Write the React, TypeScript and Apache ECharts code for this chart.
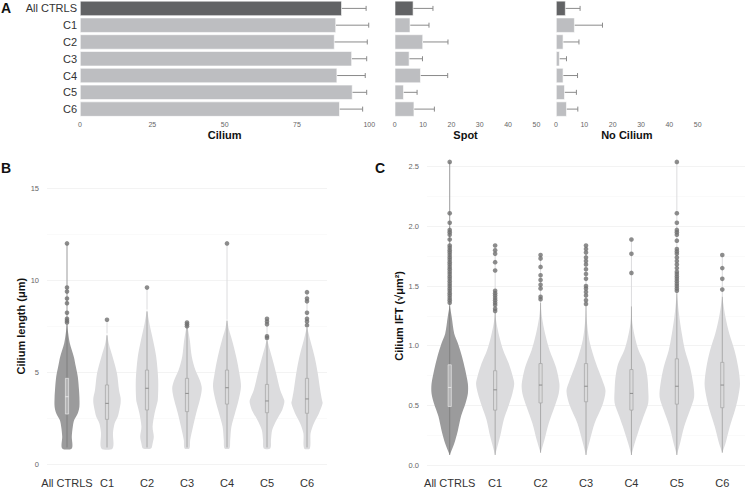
import React, { useEffect, useRef } from "react";
import * as echarts from "echarts";

// ---------- data ----------
const categories = ["All CTRLS", "C1", "C2", "C3", "C4", "C5", "C6"];

// Panel A (percent of cells), mean and mean+SD
const ciliumMean = [90.5, 88.5, 88.0, 94.0, 88.9, 94.2, 89.8];
const ciliumErr = [98.9, 99.8, 99.3, 99.1, 98.6, 99.1, 97.7];
const spotMean = [6.6, 5.5, 10.0, 5.2, 9.2, 3.2, 6.9];
const spotErr = [13.5, 12.1, 18.8, 9.8, 18.7, 7.9, 14.0];
const noCiliumMean = [3.4, 6.6, 2.6, 1.3, 2.6, 3.1, 3.8];
const noCiliumErr = [8.5, 16.4, 8.1, 3.7, 7.6, 7.2, 7.7];

// Panel B: violin outlines [value, half-width as fraction of category band]
const lengthAll = [[0.85, 0.12], [1.5, 0.12], [2.03, 0.145], [2.39, 0.18], [2.76, 0.27], [3.12, 0.31], [3.66, 0.31], [4.03, 0.3], [4.75, 0.27], [5.3, 0.22], [5.84, 0.17], [6.57, 0.07], [7.11, 0.03], [7.7, 0]];
const lengthC1 = [[0.85, 0.14], [1.7, 0.15], [2.21, 0.19], [2.58, 0.27], [2.94, 0.31], [3.3, 0.34], [3.6, 0.34], [4.03, 0.3], [4.93, 0.25], [5.84, 0.14], [6.5, 0.05], [7.1, 0]];
const lengthC2 = [[0.85, 0.1], [1.12, 0.14], [1.49, 0.17], [2.03, 0.14], [2.76, 0.19], [3.2, 0.24], [3.48, 0.27], [4.57, 0.28], [5.84, 0.23], [6.75, 0.15], [7.65, 0.06], [8.4, 0]];
const lengthC3 = [[0.85, 0.06], [1.31, 0.08], [2.03, 0.15], [2.76, 0.23], [3.48, 0.32], [4.1, 0.37], [4.5, 0.33], [5.11, 0.21], [5.84, 0.12], [6.75, 0.07], [7.65, 0]];
const lengthC4 = [[0.85, 0.06], [1.31, 0.08], [2.03, 0.11], [2.76, 0.2], [3.48, 0.29], [4.21, 0.35], [4.93, 0.31], [5.84, 0.23], [6.75, 0.125], [7.3, 0.05], [7.85, 0]];
const lengthC5 = [[0.85, 0.08], [1.31, 0.1], [1.85, 0.13], [2.39, 0.24], [2.94, 0.38], [3.3, 0.43], [3.48, 0.43], [4.03, 0.33], [4.93, 0.23], [5.84, 0.12], [6.3, 0.06], [6.8, 0]];
const lengthC6 = [[0.85, 0.07], [1.67, 0.09], [2.21, 0.17], [2.76, 0.3], [3.3, 0.39], [3.48, 0.375], [4.03, 0.33], [4.93, 0.27], [5.84, 0.19], [6.75, 0.08], [7.47, 0]];
// [lower whisker, Q1, median, Q3, upper whisker]
const lengthBox = [
  [0.9, 2.72, 3.66, 4.66, 7.6],
  [0.9, 2.43, 3.3, 4.3, 7.0],
  [0.9, 2.94, 4.12, 5.11, 8.3],
  [0.9, 2.85, 3.84, 4.66, 7.5],
  [0.9, 3.26, 4.15, 5.11, 7.8],
  [0.9, 2.79, 3.43, 4.33, 6.7],
  [0.9, 2.76, 3.54, 4.66, 7.4],
];
const lengthOutliers = [
  [12.0, 9.6, 9.38, 9.0, 8.75, 8.23, 7.9, 7.8, 7.7],
  [7.85],
  [9.6],
  [7.7, 7.6, 7.5],
  [12.0],
  [7.9, 7.75, 7.6, 6.95, 6.85],
  [9.35, 9.0, 8.85, 8.23, 7.9, 7.75, 7.55],
];

// Panel C
const iftAll = [[0.084, 0], [0.18, 0.1], [0.29, 0.18], [0.41, 0.25], [0.52, 0.35], [0.6, 0.4], [0.68, 0.4], [0.8, 0.34], [0.91, 0.27], [1.02, 0.18], [1.1, 0.1], [1.24, 0.044], [1.34, 0]];
const iftC1 = [[0.084, 0], [0.24, 0.11], [0.38, 0.19], [0.49, 0.29], [0.6, 0.38], [0.68, 0.42], [0.74, 0.39], [0.85, 0.3], [0.96, 0.18], [1.08, 0.09], [1.19, 0.03], [1.28, 0]];
const iftC2 = [[0.103, 0], [0.21, 0.085], [0.35, 0.18], [0.49, 0.31], [0.6, 0.4], [0.68, 0.415], [0.82, 0.34], [0.96, 0.2], [1.1, 0.1], [1.24, 0.03], [1.36, 0]];
const iftC3 = [[0.084, 0], [0.2, 0.08], [0.35, 0.19], [0.5, 0.36], [0.62, 0.43], [0.7, 0.37], [0.8, 0.27], [0.91, 0.17], [1.05, 0.07], [1.2, 0.02], [1.33, 0]];
const iftC4 = [[0.084, 0], [0.18, 0.07], [0.29, 0.16], [0.41, 0.27], [0.52, 0.37], [0.63, 0.37], [0.74, 0.35], [0.85, 0.29], [0.96, 0.16], [1.05, 0.09], [1.19, 0.02], [1.33, 0]];
const iftC5 = [[0.084, 0], [0.18, 0.07], [0.32, 0.16], [0.46, 0.29], [0.57, 0.38], [0.68, 0.36], [0.82, 0.29], [0.96, 0.18], [1.1, 0.11], [1.24, 0.055], [1.44, 0]];
const iftC6 = [[0.103, 0], [0.18, 0.07], [0.32, 0.165], [0.46, 0.28], [0.57, 0.35], [0.68, 0.39], [0.82, 0.35], [0.96, 0.27], [1.1, 0.155], [1.24, 0.07], [1.41, 0]];
const iftBox = [
  [0.084, 0.49, 0.65, 0.84, 1.34],
  [0.084, 0.46, 0.63, 0.79, 1.28],
  [0.103, 0.52, 0.67, 0.85, 1.36],
  [0.084, 0.53, 0.66, 0.85, 1.33],
  [0.084, 0.46, 0.6, 0.8, 1.33],
  [0.084, 0.51, 0.66, 0.89, 1.44],
  [0.103, 0.48, 0.67, 0.86, 1.41],
];
const iftOutliers = [
  [2.54, 2.11, 2.03, 1.97, 1.95, 1.93, 1.89, 1.84, 1.82, 1.8, 1.78, 1.76, 1.74, 1.72, 1.7, 1.68, 1.66, 1.64, 1.62, 1.6, 1.58, 1.56, 1.54, 1.52, 1.5, 1.48, 1.46, 1.44, 1.42, 1.4, 1.38, 1.36],
  [1.84, 1.8, 1.77, 1.7, 1.63, 1.46, 1.44, 1.42, 1.4, 1.38, 1.36, 1.34, 1.31, 1.29],
  [1.76, 1.73, 1.66, 1.59, 1.55, 1.51, 1.48, 1.41, 1.39],
  [1.84, 1.81, 1.78, 1.74, 1.71, 1.68, 1.64, 1.6, 1.56, 1.5, 1.48, 1.45, 1.42, 1.38, 1.35],
  [1.89, 1.77, 1.61],
  [2.54, 2.11, 2.03, 1.97, 1.95, 1.93, 1.88, 1.81, 1.79, 1.77, 1.74, 1.71, 1.68, 1.65, 1.62, 1.6, 1.58, 1.56, 1.54, 1.52, 1.5, 1.48, 1.46],
  [1.76, 1.65, 1.56, 1.47],
];

const lengthProfiles = [lengthAll, lengthC1, lengthC2, lengthC3, lengthC4, lengthC5, lengthC6];
const iftProfiles = [iftAll, iftC1, iftC2, iftC3, iftC4, iftC5, iftC6];

// ---------- styles ----------
const FONT = "Liberation Sans, Arial, Helvetica, sans-serif";
const DARK_BAR = "#626365";
const LIGHT_BAR = "#bdbec1";
const DARK_VIO = "#9b9b9c";
const LIGHT_VIO = "#dcdcde";
const OUT_COL = "#707070";

function barSeries(values: number[], idx: number) {
  return {
    type: "bar",
    xAxisIndex: idx,
    yAxisIndex: idx,
    barCategoryGap: "10%",
    data: values.map((v, i) => ({
      value: v,
      itemStyle: { color: i === 0 ? DARK_BAR : LIGHT_BAR, borderColor: "#ffffff", borderWidth: 0.6 },
    })),
    z: 2,
  };
}

function errSeries(mean: number[], err: number[], idx: number) {
  return {
    type: "custom",
    xAxisIndex: idx,
    yAxisIndex: idx,
    z: 3,
    encode: { x: [0, 1], y: 2 },
    data: mean.map((m, i) => [m, err[i], i]),
    renderItem: (params: any, api: any) => {
      const p0 = api.coord([api.value(0), api.value(2)]);
      const p1 = api.coord([api.value(1), api.value(2)]);
      const st = { stroke: "#8a8a8a", lineWidth: 1 };
      return {
        type: "group",
        children: [
          { type: "line", shape: { x1: p0[0], y1: p0[1], x2: p1[0], y2: p1[1] }, style: st },
          { type: "line", shape: { x1: p1[0], y1: p1[1] - 2.5, x2: p1[0], y2: p1[1] + 2.5 }, style: st },
        ],
      };
    },
  };
}

function violinSeries(profiles: number[][][], boxes: number[][], outliers: number[][], idx: number) {
  return {
    type: "custom",
    xAxisIndex: idx,
    yAxisIndex: idx,
    z: 2,
    clip: false,
    encode: { x: 0, y: [1, 2] },
    data: boxes.map((b, i) => [i, b[0], b[4]]),
    renderItem: (params: any, api: any) => {
      const i = params.dataIndex;
      const prof = profiles[i];
      const box = boxes[i];
      const dark = i === 0;
      const c0 = api.coord([0, 0]);
      const c1 = api.coord([1, 0]);
      const bw = Math.abs(c1[0] - c0[0]);
      const right = prof.map(([v, w]) => {
        const p = api.coord([i, v]);
        return [p[0] + w * bw, p[1]];
      });
      const left = prof
        .slice()
        .reverse()
        .map(([v, w]) => {
          const p = api.coord([i, v]);
          return [p[0] - w * bw, p[1]];
        });
      const fill = dark ? DARK_VIO : LIGHT_VIO;
      const center = api.coord([i, 0])[0];
      const topV = prof[prof.length - 1][0];
      const maxOut = outliers[i].length ? Math.max(...outliers[i]) : topV;
      const yTop = api.coord([i, topV])[1];
      const yMax = api.coord([i, maxOut])[1];
      const yLo = api.coord([i, box[0]])[1];
      const yQ1 = api.coord([i, box[1]])[1];
      const yMed = api.coord([i, box[2]])[1];
      const yQ3 = api.coord([i, box[3]])[1];
      const yHi = api.coord([i, box[4]])[1];
      const boxStroke = dark ? "#e6e6e6" : "#a3a3a3";
      const whisk = dark ? "#7a7a7a" : "#9c9c9c";
      const hw = 1.6;
      return {
        type: "group",
        children: [
          { type: "polygon", shape: { points: right.concat(left), smooth: 0.3 }, style: { fill } },
          { type: "line", shape: { x1: center, y1: yTop, x2: center, y2: yMax }, style: { stroke: fill, lineWidth: 1 } },
          { type: "line", shape: { x1: center, y1: yLo, x2: center, y2: yHi }, style: { stroke: whisk, lineWidth: 0.8 } },
          {
            type: "rect",
            shape: { x: center - hw, y: yQ3, width: hw * 2, height: yQ1 - yQ3 },
            style: { fill: dark ? "#b4b4b5" : "#dadadb", stroke: boxStroke, lineWidth: 0.7 },
          },
          { type: "line", shape: { x1: center - hw, y1: yMed, x2: center + hw, y2: yMed }, style: { stroke: dark ? "#f0f0f0" : "#7a7a7a", lineWidth: 0.8 } },
        ],
      };
    },
  };
}

function outlierSeries(outliers: number[][], idx: number) {
  const pts: number[][] = [];
  outliers.forEach((arr, i) => arr.forEach((v) => pts.push([i, v])));
  return {
    type: "scatter",
    xAxisIndex: idx,
    yAxisIndex: idx,
    clip: false,
    symbolSize: 4.6,
    itemStyle: { color: OUT_COL },
    z: 4,
    data: pts,
  };
}

const barYAxis = (idx: number, show: boolean) => ({
  gridIndex: idx,
  type: "category",
  data: categories,
  inverse: true,
  axisLine: { show: false },
  axisTick: { show: false },
  splitLine: { show: false },
  axisLabel: { show, fontSize: 11, color: "#333", margin: 3, fontFamily: FONT },
});

const barXAxis = (idx: number, max: number, interval: number, name: string) => ({
  gridIndex: idx,
  type: "value",
  min: 0,
  max,
  interval,
  axisLine: { show: false },
  axisTick: { show: false },
  splitLine: { show: false },
  axisLabel: { fontSize: 7, color: "#666", margin: 3, fontFamily: FONT },
  name,
  nameLocation: "middle",
  nameGap: 12,
  nameTextStyle: { fontSize: 11, fontWeight: "bold", color: "#111", fontFamily: FONT },
});

const violinXAxis = (idx: number, margin: number) => ({
  gridIndex: idx,
  type: "category",
  data: categories,
  axisLine: { show: false },
  axisTick: { show: false },
  splitLine: { show: false },
  axisLabel: { fontSize: 11, color: "#333", margin, fontFamily: FONT, interval: 0 },
});

const violinYAxis = (idx: number, max: number, interval: number, name: string, gap: number, fmt: (v: number) => string) => ({
  gridIndex: idx,
  type: "value",
  min: 0,
  max,
  interval,
  axisLine: { show: false },
  axisTick: { show: false },
  minorTick: { show: false, splitNumber: 2 },
  splitLine: { show: true, lineStyle: { color: "#ebebeb", width: 0.6 } },
  minorSplitLine: { show: true, lineStyle: { color: "#f5f5f5", width: 0.5 } },
  axisLabel: { fontSize: 7.5, color: "#666", margin: 8, fontFamily: FONT, formatter: fmt },
  name,
  nameLocation: "middle",
  nameGap: gap,
  nameTextStyle: { fontSize: 11, fontWeight: "bold", color: "#111", fontFamily: FONT },
});

export default function App() {
  const ref = useRef<HTMLDivElement>(null);
  useEffect(() => {
    if (!ref.current) return;
    const chart = echarts.init(ref.current, null, { renderer: "svg" });
    const option: any = {
      animation: false,
      backgroundColor: "#ffffff",
      textStyle: { fontFamily: FONT },
      grid: [
        { left: 80, top: 0, width: 289.3, height: 117.5 },
        { left: 394.7, top: 0, width: 141.7, height: 117.5 },
        { left: 556, top: 0, width: 141.7, height: 117.5 },
        { left: 47, top: 188.3, width: 280, height: 275.7 },
        { left: 427, top: 166.7, width: 318, height: 298.3 },
      ],
      xAxis: [
        barXAxis(0, 100, 25, "Cilium"),
        barXAxis(1, 50, 10, "Spot"),
        barXAxis(2, 50, 10, "No Cilium"),
        violinXAxis(3, 13),
        violinXAxis(4, 12),
      ],
      yAxis: [
        barYAxis(0, true),
        barYAxis(1, false),
        barYAxis(2, false),
        violinYAxis(3, 15, 5, "Cilium length (μm)", 20, (v: number) => String(v)),
        violinYAxis(4, 2.5, 0.5, "Cilium IFT (√μm²)", 21, (v: number) => v.toFixed(1)),
      ],
      series: [
        barSeries(ciliumMean, 0),
        errSeries(ciliumMean, ciliumErr, 0),
        barSeries(spotMean, 1),
        errSeries(spotMean, spotErr, 1),
        barSeries(noCiliumMean, 2),
        errSeries(noCiliumMean, noCiliumErr, 2),
        violinSeries(lengthProfiles, lengthBox, lengthOutliers, 3),
        outlierSeries(lengthOutliers, 3),
        violinSeries(iftProfiles, iftBox, iftOutliers, 4),
        outlierSeries(iftOutliers, 4),
      ],
      graphic: [
        { type: "text", left: 1, top: 1, style: { text: "A", fontSize: 14, fontWeight: "bold", fill: "#111", fontFamily: FONT } },
        { type: "text", left: 1, top: 161, style: { text: "B", fontSize: 14, fontWeight: "bold", fill: "#111", fontFamily: FONT } },
        { type: "text", left: 375, top: 161, style: { text: "C", fontSize: 14, fontWeight: "bold", fill: "#111", fontFamily: FONT } },
      ],
    };
    chart.setOption(option);
    return () => chart.dispose();
  }, []);
  return <div ref={ref} style={{ position: "fixed", left: 0, top: 0, width: 750, height: 488 }} />;
}
